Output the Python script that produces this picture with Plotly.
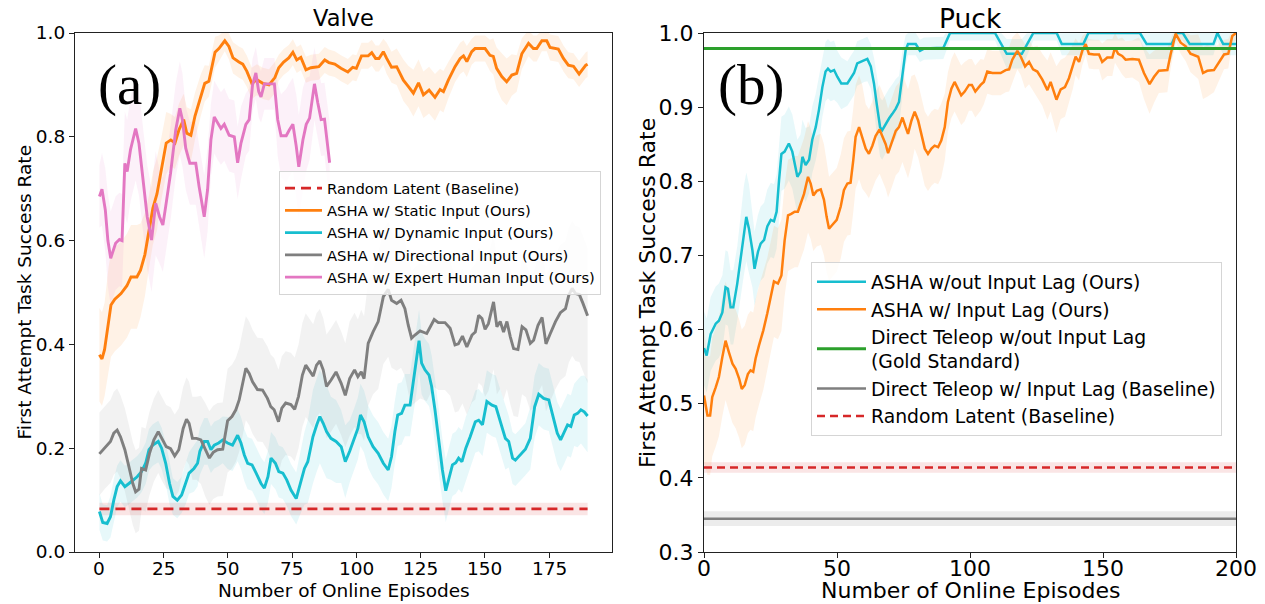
import plotly.graph_objects as go

FONT = "DejaVu Sans"
SERIF = "Liberation Serif"
C_OR = "#ff7f0e"
C_CY = "#17becf"
C_GR = "#7f7f7f"
C_PK = "#e377c2"
C_RD = "#d62728"
C_GN = "#2ca02c"

# ---------------- Data: (episode, mean, spread) ----------------
valve_ticks_x = [0, 25, 50, 75, 100, 125, 150, 175]
valve_ticks_y = [0.0, 0.2, 0.4, 0.6, 0.8, 1.0]
puck_ticks_x = [0, 50, 100, 150, 200]
puck_ticks_y = [0.3, 0.4, 0.5, 0.6, 0.7, 0.8, 0.9, 1.0]

valve_random_ep = [0, 190]
valve_random_mean = 0.083
valve_random_spread = 0.012

valve_static = [
    (0, 0.38, 0.09), (1, 0.372, 0.09), (2, 0.39, 0.09), (3.6, 0.45, 0.1), (4.5, 0.476, 0.1),
    (6, 0.487, 0.1), (8.4, 0.498, 0.1), (10.7, 0.513, 0.1), (12.3, 0.53, 0.1), (14.6, 0.53, 0.1),
    (16, 0.543, 0.09), (17.7, 0.573, 0.08), (19.3, 0.617, 0.07), (20.8, 0.662, 0.07), (22.4, 0.69, 0.07),
    (24, 0.736, 0.06), (26, 0.788, 0.06), (27.8, 0.794, 0.05), (29.4, 0.788, 0.05), (31, 0.814, 0.05),
    (32.8, 0.833, 0.05), (34, 0.807, 0.05), (35.6, 0.803, 0.05), (37.2, 0.84, 0.045), (39.5, 0.881, 0.04),
    (41, 0.903, 0.035), (42.6, 0.907, 0.03), (45, 0.963, 0.03), (46.5, 0.97, 0.025), (48.8, 0.985, 0.02),
    (50.4, 0.974, 0.025), (52, 0.952, 0.03), (54.3, 0.944, 0.03), (55.8, 0.94, 0.03), (57.4, 0.926, 0.03),
    (59.3, 0.903, 0.03), (61.3, 0.91, 0.03), (63.6, 0.903, 0.03), (66, 0.9, 0.03), (68.3, 0.914, 0.03),
    (69.8, 0.933, 0.025), (71.7, 0.944, 0.025), (73.7, 0.952, 0.025), (75.3, 0.963, 0.025), (76.8, 0.948, 0.025),
    (78.4, 0.953, 0.025), (80.4, 0.929, 0.025), (82.3, 0.933, 0.025), (85.4, 0.935, 0.025), (87.7, 0.948, 0.025),
    (89.3, 0.943, 0.025), (91.6, 0.94, 0.025), (94, 0.932, 0.025), (96.7, 0.925, 0.025), (98.6, 0.934, 0.025),
    (100, 0.932, 0.025), (102, 0.956, 0.025), (104.6, 0.956, 0.025), (106, 0.962, 0.025), (107.5, 0.951, 0.025),
    (108.8, 0.951, 0.025), (110.5, 0.964, 0.025), (111.8, 0.951, 0.03), (113.7, 0.934, 0.03), (115.7, 0.935, 0.035),
    (118.3, 0.909, 0.04), (120.2, 0.897, 0.04), (122.2, 0.884, 0.045), (124.2, 0.904, 0.045), (126.1, 0.881, 0.045),
    (128.3, 0.89, 0.045), (130.6, 0.876, 0.045), (132.6, 0.891, 0.04), (133.9, 0.887, 0.04), (135.8, 0.909, 0.035),
    (138.4, 0.935, 0.03), (140.4, 0.951, 0.03), (141.7, 0.956, 0.03), (143, 0.945, 0.03), (144.9, 0.964, 0.025),
    (146.2, 0.97, 0.025), (150.1, 0.97, 0.025), (152, 0.957, 0.03), (153.3, 0.955, 0.035), (154.6, 0.932, 0.04),
    (156.6, 0.916, 0.045), (158.5, 0.906, 0.045), (160.5, 0.919, 0.04), (162.4, 0.922, 0.035), (164.4, 0.96, 0.03),
    (167, 0.98, 0.025), (168.9, 0.97, 0.025), (170.2, 0.97, 0.025), (172.2, 0.985, 0.02), (174.1, 0.985, 0.02),
    (175.4, 0.972, 0.025), (178.6, 0.969, 0.025), (180.6, 0.951, 0.025), (182.5, 0.938, 0.025), (184.5, 0.936, 0.025),
    (186.7, 0.921, 0.025), (189.3, 0.938, 0.025), (190, 0.94, 0.025),
]

valve_dynamic = [
    (0, 0.078, 0.035), (1.3, 0.057, 0.035), (3, 0.055, 0.035), (4.3, 0.068, 0.04), (5.6, 0.1, 0.04),
    (6.9, 0.126, 0.04), (8.2, 0.137, 0.04), (9.9, 0.126, 0.04), (11.5, 0.132, 0.04), (13, 0.139, 0.04),
    (14.7, 0.145, 0.04), (16.4, 0.155, 0.04), (18, 0.171, 0.04), (19.3, 0.197, 0.04), (20.8, 0.206, 0.04),
    (22.9, 0.213, 0.04), (24.2, 0.2, 0.04), (25.8, 0.171, 0.04), (27.3, 0.132, 0.04), (28.6, 0.107, 0.035),
    (30.3, 0.1, 0.035), (32, 0.11, 0.035), (33.6, 0.132, 0.04), (34.9, 0.152, 0.04), (36.8, 0.161, 0.045),
    (38.2, 0.171, 0.045), (39.1, 0.194, 0.045), (40.8, 0.213, 0.045), (42.1, 0.213, 0.045), (43.4, 0.197, 0.045),
    (44.7, 0.206, 0.045), (46.4, 0.21, 0.045), (48, 0.216, 0.045), (49.9, 0.21, 0.05), (51.8, 0.206, 0.05),
    (53.8, 0.225, 0.05), (55.1, 0.21, 0.05), (56.4, 0.187, 0.05), (57.7, 0.171, 0.05), (59.4, 0.168, 0.05),
    (61, 0.152, 0.05), (62.9, 0.132, 0.05), (64.2, 0.123, 0.05), (65.6, 0.145, 0.05), (66.8, 0.181, 0.05),
    (68.5, 0.171, 0.05), (69.8, 0.155, 0.05), (71.4, 0.152, 0.05), (72.9, 0.139, 0.05), (74.6, 0.119, 0.05),
    (76.6, 0.103, 0.05), (78.1, 0.132, 0.06), (79.8, 0.161, 0.07), (81.1, 0.174, 0.08), (83.1, 0.222, 0.09),
    (84.6, 0.245, 0.09), (85.8, 0.261, 0.09), (87.1, 0.248, 0.09), (88.4, 0.232, 0.09), (90.1, 0.219, 0.08),
    (92.1, 0.213, 0.08), (94.1, 0.203, 0.07), (95.7, 0.174, 0.07), (97.4, 0.194, 0.06), (99.3, 0.219, 0.06),
    (100.6, 0.238, 0.06), (101.6, 0.264, 0.06), (103, 0.251, 0.06), (104.6, 0.222, 0.06), (106.5, 0.203, 0.06),
    (108.5, 0.19, 0.06), (110.5, 0.171, 0.06), (112.4, 0.158, 0.06), (113.7, 0.184, 0.06), (115, 0.232, 0.06),
    (116.1, 0.264, 0.06), (117.6, 0.267, 0.06), (118.9, 0.283, 0.06), (120.9, 0.283, 0.06), (122.2, 0.328, 0.06),
    (123.5, 0.37, 0.06), (124.4, 0.407, 0.06), (125.4, 0.364, 0.06), (126.7, 0.351, 0.06), (128.3, 0.341, 0.06),
    (129.3, 0.319, 0.06), (130.6, 0.274, 0.06), (132.2, 0.21, 0.06), (133.5, 0.158, 0.06), (134.8, 0.118, 0.06),
    (136.1, 0.145, 0.06), (137.4, 0.168, 0.06), (138.7, 0.172, 0.06), (139.8, 0.181, 0.06), (141.1, 0.174, 0.06),
    (142.6, 0.2, 0.06), (144.3, 0.222, 0.06), (146.3, 0.251, 0.06), (147.6, 0.254, 0.06), (149.1, 0.245, 0.06),
    (150.8, 0.29, 0.06), (152.8, 0.283, 0.06), (154.3, 0.28, 0.06), (156, 0.254, 0.06), (158, 0.219, 0.06),
    (159.3, 0.213, 0.05), (160.8, 0.181, 0.05), (161.9, 0.177, 0.05), (163.8, 0.187, 0.05), (165.8, 0.198, 0.05),
    (167.7, 0.219, 0.06), (169.4, 0.28, 0.06), (171, 0.304, 0.06), (172.9, 0.296, 0.06), (174.9, 0.293, 0.06),
    (176.5, 0.261, 0.06), (178.2, 0.229, 0.06), (179.5, 0.216, 0.06), (180.8, 0.229, 0.06), (182.2, 0.245, 0.06),
    (183.5, 0.242, 0.06), (184.8, 0.264, 0.06), (186.1, 0.267, 0.065), (187.4, 0.274, 0.065), (188.7, 0.27, 0.07),
    (190, 0.262, 0.07),
]

valve_directional = [
    (0, 0.189, 0.08), (2.3, 0.203, 0.08), (4.3, 0.213, 0.08), (5.6, 0.229, 0.08), (6.9, 0.235, 0.08),
    (8.2, 0.222, 0.08), (9.9, 0.197, 0.08), (11.5, 0.164, 0.08), (13, 0.132, 0.08), (14.1, 0.116, 0.08),
    (15.4, 0.121, 0.08), (16.4, 0.161, 0.08), (18, 0.158, 0.08), (19.5, 0.19, 0.08), (21.2, 0.216, 0.08),
    (22.9, 0.232, 0.08), (24.5, 0.216, 0.08), (26, 0.203, 0.08), (27.7, 0.199, 0.08), (29.3, 0.185, 0.08),
    (30.9, 0.197, 0.08), (32.6, 0.238, 0.08), (33.9, 0.256, 0.08), (34.9, 0.248, 0.08), (36.2, 0.219, 0.08),
    (37.8, 0.219, 0.08), (39.5, 0.216, 0.085), (41.2, 0.197, 0.09), (42.8, 0.181, 0.09), (44.3, 0.192, 0.09),
    (46, 0.197, 0.09), (48, 0.198, 0.09), (49.9, 0.253, 0.1), (51.6, 0.261, 0.1), (53.1, 0.274, 0.1),
    (54.4, 0.293, 0.1), (55.7, 0.325, 0.1), (57, 0.354, 0.1), (58.3, 0.344, 0.1), (59.6, 0.328, 0.1),
    (61.5, 0.313, 0.1), (63.5, 0.312, 0.1), (65.4, 0.296, 0.1), (66.7, 0.28, 0.1), (68, 0.274, 0.1),
    (69.7, 0.251, 0.1), (71, 0.277, 0.1), (72.5, 0.287, 0.1), (74.5, 0.284, 0.1), (76, 0.275, 0.1),
    (77.5, 0.3, 0.1), (79, 0.341, 0.1), (80.3, 0.36, 0.1), (81.6, 0.351, 0.1), (83.2, 0.339, 0.1),
    (84.5, 0.36, 0.1), (85.8, 0.368, 0.1), (87.1, 0.351, 0.1), (88.4, 0.319, 0.1), (90.1, 0.331, 0.1),
    (92.1, 0.347, 0.1), (94.1, 0.325, 0.1), (95.7, 0.302, 0.1), (97.4, 0.334, 0.11), (99.3, 0.351, 0.11),
    (100.6, 0.338, 0.11), (101.9, 0.347, 0.12), (103, 0.334, 0.12), (104.6, 0.402, 0.12), (106.5, 0.424, 0.12),
    (108.5, 0.444, 0.13), (110.5, 0.492, 0.13), (112.4, 0.506, 0.13), (113.7, 0.485, 0.13), (115.7, 0.479, 0.13),
    (117.4, 0.485, 0.13), (118.9, 0.469, 0.13), (120.2, 0.437, 0.13), (121.5, 0.412, 0.13), (122.8, 0.418, 0.13),
    (124.8, 0.426, 0.13), (127.4, 0.421, 0.13), (128.6, 0.433, 0.13), (130.3, 0.448, 0.13), (131.9, 0.442, 0.13),
    (134.5, 0.442, 0.13), (136.5, 0.431, 0.13), (138.4, 0.399, 0.13), (139.7, 0.401, 0.13), (141.3, 0.416, 0.13),
    (143, 0.395, 0.13), (145, 0.418, 0.13), (146.3, 0.424, 0.13), (147.6, 0.456, 0.13), (148.9, 0.45, 0.13),
    (150.1, 0.429, 0.13), (151.4, 0.44, 0.13), (153.4, 0.482, 0.13), (154.7, 0.434, 0.13), (156, 0.444, 0.13),
    (157.3, 0.424, 0.13), (158.6, 0.444, 0.13), (159.9, 0.415, 0.13), (161.2, 0.392, 0.13), (162.9, 0.39, 0.13),
    (164.5, 0.434, 0.13), (166, 0.428, 0.13), (167.7, 0.402, 0.13), (169, 0.408, 0.13), (170.7, 0.437, 0.13),
    (172.3, 0.452, 0.13), (173.8, 0.401, 0.13), (175.5, 0.421, 0.13), (177.5, 0.444, 0.13), (179.4, 0.461, 0.13),
    (181.4, 0.469, 0.13), (182.7, 0.495, 0.13), (184, 0.508, 0.13), (185.3, 0.498, 0.13), (186.8, 0.496, 0.13),
    (188.2, 0.479, 0.13), (190, 0.455, 0.13),
]

valve_expert = [
    (0, 0.685, 0.06), (1, 0.699, 0.07), (2.3, 0.659, 0.08), (3.3, 0.6, 0.09), (4.4, 0.566, 0.09),
    (6.3, 0.595, 0.09), (7.8, 0.602, 0.09), (8.8, 0.6, 0.09), (9.9, 0.749, 0.1), (10.8, 0.733, 0.1),
    (12.1, 0.775, 0.1), (14.1, 0.816, 0.1), (15.4, 0.787, 0.1), (17.3, 0.704, 0.1), (18.6, 0.646, 0.1),
    (20.3, 0.601, 0.1), (21.9, 0.672, 0.1), (23.4, 0.646, 0.09), (24.7, 0.63, 0.09), (25.8, 0.666, 0.09),
    (27.7, 0.73, 0.09), (29.7, 0.813, 0.09), (31.3, 0.855, 0.09), (32.3, 0.833, 0.09), (33.6, 0.778, 0.08),
    (35.2, 0.749, 0.08), (37.5, 0.749, 0.08), (38.8, 0.704, 0.08), (40.8, 0.646, 0.08), (42.1, 0.698, 0.08),
    (43.4, 0.794, 0.07), (44.7, 0.838, 0.07), (46, 0.826, 0.07), (47.3, 0.816, 0.07), (48.6, 0.824, 0.07),
    (50.5, 0.803, 0.07), (52.5, 0.8, 0.07), (53.8, 0.75, 0.07), (55.1, 0.788, 0.07), (57, 0.824, 0.06),
    (58.3, 0.833, 0.06), (59.6, 0.9, 0.05), (60.9, 0.923, 0.05), (62, 0.887, 0.05), (62.9, 0.877, 0.05),
    (64.2, 0.902, 0.05), (68.1, 0.902, 0.05), (69.4, 0.833, 0.07), (70.7, 0.802, 0.08), (72.7, 0.802, 0.09),
    (73.9, 0.813, 0.09), (75.3, 0.824, 0.09), (76.6, 0.782, 0.1), (77.6, 0.742, 0.1), (79.2, 0.794, 0.1),
    (80.5, 0.824, 0.09), (81.8, 0.836, 0.08), (83.7, 0.902, 0.07), (85, 0.865, 0.07), (86.3, 0.833, 0.07),
    (87.6, 0.834, 0.07), (89.6, 0.75, 0.08),
]

puck_gold_mean = 0.979
puck_lag_tele_mean = 0.345
puck_lag_tele_spread = 0.01
puck_random_mean = 0.414
puck_random_spread = 0.007
puck_const_ep = [0, 200]

puck_no_lag = [
    (0, 0.575, 0.05), (1, 0.565, 0.05), (2.5, 0.594, 0.05), (4.4, 0.608, 0.05), (5.6, 0.612, 0.05),
    (6.9, 0.623, 0.05), (8.1, 0.657, 0.05), (9, 0.655, 0.05), (10, 0.63, 0.05), (11, 0.63, 0.05),
    (12.5, 0.662, 0.05), (13.8, 0.698, 0.055), (15, 0.734, 0.06), (15.9, 0.752, 0.06), (16.9, 0.736, 0.06),
    (18.2, 0.707, 0.05), (19, 0.682, 0.05), (20.3, 0.705, 0.05), (21.3, 0.716, 0.05), (22.6, 0.721, 0.05),
    (23.8, 0.739, 0.05), (25.1, 0.748, 0.05), (26.3, 0.746, 0.05), (27.3, 0.759, 0.05), (28.2, 0.801, 0.05),
    (29.1, 0.837, 0.05), (30.3, 0.84, 0.05), (31.9, 0.851, 0.05), (33.2, 0.84, 0.05), (34.1, 0.822, 0.05),
    (35.1, 0.806, 0.05), (36.3, 0.813, 0.05), (37, 0.833, 0.05), (38.2, 0.822, 0.05), (39.5, 0.829, 0.045),
    (40.7, 0.856, 0.045), (42, 0.873, 0.045), (43.2, 0.896, 0.045), (44.5, 0.927, 0.04), (45.7, 0.948, 0.04),
    (46.6, 0.952, 0.04), (47.6, 0.948, 0.04), (48.9, 0.95, 0.04), (50.1, 0.941, 0.035), (51.6, 0.932, 0.035),
    (53.9, 0.932, 0.03), (55.1, 0.939, 0.03), (56.4, 0.946, 0.03), (57.6, 0.959, 0.03), (58.9, 0.961, 0.03),
    (60.2, 0.964, 0.03), (61.4, 0.965, 0.03), (62.7, 0.955, 0.03), (63.9, 0.932, 0.035), (64.9, 0.905, 0.04),
    (66.2, 0.873, 0.04), (67, 0.869, 0.04), (68.3, 0.878, 0.04), (69.6, 0.885, 0.04), (70.8, 0.891, 0.04),
    (72.1, 0.898, 0.04), (73.3, 0.907, 0.035), (74.6, 0.946, 0.03), (75.8, 0.977, 0.02), (76.7, 0.985, 0.015),
    (79.6, 0.985, 0.015), (81.2, 0.976, 0.015), (82.7, 0.979, 0.015), (90, 0.98, 0.015), (92.5, 1.0, 0.01),
    (109.4, 1.0, 0.01), (111.5, 0.986, 0.015), (113.8, 0.972, 0.02), (119.5, 0.972, 0.02), (121.3, 0.984, 0.015),
    (123.8, 1.0, 0.01), (132.6, 1.0, 0.01), (134.5, 0.985, 0.015), (142.6, 0.985, 0.015), (144.5, 1.0, 0.01),
    (163.9, 1.0, 0.01), (166.4, 0.985, 0.02), (175.8, 0.985, 0.02), (177.6, 1.0, 0.01), (180, 1.0, 0.01),
    (182.6, 0.985, 0.015), (191.5, 0.985, 0.015), (193, 1.0, 0.01), (195.2, 0.985, 0.015), (200, 0.985, 0.015),
]

puck_lag = [
    (0, 0.511, 0.09), (1.3, 0.484, 0.08), (2.3, 0.484, 0.08), (3.1, 0.509, 0.08), (4.4, 0.522, 0.08),
    (5.6, 0.536, 0.08), (6.9, 0.563, 0.08), (8.1, 0.585, 0.08), (9.4, 0.569, 0.08), (10.7, 0.554, 0.08),
    (11.9, 0.547, 0.08), (13.2, 0.534, 0.08), (14.2, 0.52, 0.08), (15.3, 0.525, 0.08), (16.5, 0.54, 0.08),
    (17.5, 0.545, 0.08), (18.5, 0.543, 0.08), (19.4, 0.561, 0.08), (20.7, 0.579, 0.08), (22.3, 0.599, 0.08),
    (23.8, 0.622, 0.075), (25.1, 0.644, 0.075), (26.3, 0.665, 0.075), (27.8, 0.662, 0.075), (29.1, 0.673, 0.075),
    (30.3, 0.72, 0.075), (31.6, 0.754, 0.075), (32.8, 0.756, 0.075), (34.1, 0.759, 0.075), (35.3, 0.759, 0.075),
    (36.6, 0.773, 0.075), (37.6, 0.783, 0.075), (39.1, 0.806, 0.075), (40.1, 0.797, 0.075), (41.1, 0.781, 0.075),
    (42.4, 0.787, 0.075), (43.9, 0.789, 0.075), (45.1, 0.775, 0.075), (46.1, 0.752, 0.075), (47, 0.736, 0.07),
    (48.2, 0.741, 0.07), (49.9, 0.748, 0.07), (51.4, 0.766, 0.07), (52.6, 0.788, 0.07), (53.9, 0.797, 0.07),
    (55.1, 0.798, 0.07), (56.1, 0.828, 0.07), (57, 0.86, 0.07), (58.3, 0.873, 0.07), (59.5, 0.86, 0.07),
    (60.8, 0.844, 0.06), (62, 0.837, 0.06), (63.3, 0.848, 0.06), (64.5, 0.861, 0.06), (66, 0.87, 0.06),
    (67, 0.861, 0.06), (68.3, 0.85, 0.06), (69.2, 0.838, 0.06), (70.4, 0.85, 0.06), (72.1, 0.868, 0.06),
    (73.3, 0.873, 0.06), (74.6, 0.886, 0.06), (75.8, 0.873, 0.06), (76.7, 0.864, 0.06), (78, 0.882, 0.06),
    (79.2, 0.894, 0.05), (80.5, 0.882, 0.05), (81.7, 0.864, 0.05), (83, 0.844, 0.05), (84.2, 0.837, 0.05),
    (85.5, 0.844, 0.05), (86.7, 0.848, 0.05), (88, 0.846, 0.05), (89.2, 0.855, 0.05), (90.5, 0.873, 0.045),
    (91.7, 0.907, 0.04), (93, 0.925, 0.04), (94.2, 0.934, 0.04), (95.5, 0.925, 0.04), (96.7, 0.916, 0.04),
    (98, 0.921, 0.04), (99.6, 0.93, 0.035), (100.7, 0.93, 0.035), (102, 0.921, 0.035), (104, 0.93, 0.035),
    (105.2, 0.934, 0.03), (106.5, 0.948, 0.03), (108.4, 0.946, 0.03), (111.5, 0.946, 0.03), (113.4, 0.95, 0.03),
    (114.7, 0.951, 0.03), (115.9, 0.964, 0.03), (117.8, 0.976, 0.025), (119.1, 0.968, 0.025), (120.7, 0.955, 0.03),
    (122.2, 0.961, 0.03), (123.7, 0.951, 0.03), (125.3, 0.948, 0.035), (127.2, 0.937, 0.035), (129.1, 0.923, 0.04),
    (130.3, 0.934, 0.04), (132.5, 0.91, 0.045), (134.1, 0.924, 0.04), (135.7, 0.927, 0.04), (137.2, 0.939, 0.035),
    (138.7, 0.955, 0.03), (139.7, 0.968, 0.025), (141, 0.961, 0.025), (142.2, 0.976, 0.02), (143.5, 0.985, 0.015),
    (144.7, 0.972, 0.02), (146.6, 0.971, 0.02), (148.5, 0.971, 0.02), (149.7, 0.961, 0.025), (151.6, 0.967, 0.025),
    (153.5, 0.967, 0.025), (154.5, 0.98, 0.02), (155.7, 0.972, 0.02), (157.2, 0.969, 0.025), (158.5, 0.964, 0.025),
    (161, 0.965, 0.025), (163.5, 0.964, 0.03), (165.4, 0.946, 0.035), (167.5, 0.931, 0.04), (169.2, 0.941, 0.035),
    (171, 0.949, 0.03), (174.2, 0.95, 0.03), (175.4, 0.971, 0.02), (177.3, 0.999, 0.01), (179.2, 0.987, 0.015),
    (181.1, 0.982, 0.02), (182.9, 0.972, 0.025), (185.8, 0.968, 0.03), (187.6, 0.946, 0.035), (189.2, 0.949, 0.035),
    (191.7, 0.95, 0.03), (193.6, 0.961, 0.025), (195.5, 0.971, 0.02), (197.1, 0.972, 0.02), (198.6, 0.996, 0.01),
    (200, 1.0, 0.01),
]

# ---------------- Figure ----------------
W, H = 1265, 604


def fx(p):
    return p / W


def fy(p):
    return 1 - p / H


def rgba(hex_color, a):
    h = hex_color.lstrip("#")
    r, g, b = int(h[0:2], 16), int(h[2:4], 16), int(h[4:6], 16)
    return f"rgba({r},{g},{b},{a})"


fig = go.Figure()


def add_band(xs, ys, ss, color, xa, ya, alpha=0.1):
    up = [y + s for y, s in zip(ys, ss)]
    lo = [y - s for y, s in zip(ys, ss)]
    fig.add_trace(go.Scatter(
        x=list(xs) + list(xs)[::-1], y=up + lo[::-1], fill="toself",
        fillcolor=rgba(color, alpha), line=dict(width=0), mode="lines",
        hoverinfo="skip", showlegend=False, xaxis=xa, yaxis=ya))


def add_line(xs, ys, color, name, xa, ya, legend, width, dash="solid"):
    fig.add_trace(go.Scatter(
        x=xs, y=ys, mode="lines", name=name, line=dict(color=color, width=width, dash=dash),
        xaxis=xa, yaxis=ya, legend=legend))


def unpack(series):
    return [p[0] for p in series], [p[1] for p in series], [p[2] for p in series]


# ----- Valve (left) -----
add_band(valve_random_ep, [valve_random_mean] * 2, [valve_random_spread] * 2, C_RD, "x", "y", 0.12)
valve_series = [
    (valve_static, C_OR, "ASHA w/ Static Input (Ours)"),
    (valve_dynamic, C_CY, "ASHA w/ Dynamic Input (Ours)"),
    (valve_directional, C_GR, "ASHA w/ Directional Input (Ours)"),
    (valve_expert, C_PK, "ASHA w/ Expert Human Input (Ours)"),
]
for ser, col, _ in valve_series:
    xs, ys, ss = unpack(ser)
    add_band(xs, ys, ss, col, "x", "y")

LW_L = 2.9
add_line(valve_random_ep, [valve_random_mean] * 2, C_RD, "Random Latent (Baseline)", "x", "y",
         "legend", LW_L, dash="10px,6px")
for ser, col, name in valve_series:
    xs, ys, ss = unpack(ser)
    add_line(xs, ys, col, name, "x", "y", "legend", LW_L)

# ----- Puck (right) -----
LW_R = 2.5
for ser, col in [(puck_no_lag, C_CY), (puck_lag, C_OR)]:
    xs, ys, ss = unpack(ser)
    add_band(xs, ys, ss, col, "x2", "y2")
add_band(puck_const_ep, [puck_lag_tele_mean] * 2, [puck_lag_tele_spread] * 2, C_GR, "x2", "y2", 0.15)
add_band(puck_const_ep, [puck_random_mean] * 2, [puck_random_spread] * 2, C_RD, "x2", "y2", 0.12)

xs, ys, ss = unpack(puck_no_lag)
add_line(xs, ys, C_CY, "ASHA w/out Input Lag (Ours)", "x2", "y2", "legend2", LW_R)
xs, ys, ss = unpack(puck_lag)
add_line(xs, ys, C_OR, "ASHA w/ Input Lag (Ours)", "x2", "y2", "legend2", LW_R)
add_line(puck_const_ep, [puck_gold_mean] * 2, C_GN, "Direct Teleop w/out Input Lag<br>(Gold Standard)",
         "x2", "y2", "legend2", LW_R + 0.4)
add_line(puck_const_ep, [puck_lag_tele_mean] * 2, C_GR, "Direct Teleop w/ Input Lag (Baseline)",
         "x2", "y2", "legend2", LW_R)
add_line(puck_const_ep, [puck_random_mean] * 2, C_RD, "Random Latent (Baseline)", "x2", "y2",
         "legend2", LW_R, dash="8px,5px")

axis_common = dict(showline=True, mirror=True, linecolor="#222", linewidth=1.1, showgrid=False,
                   zeroline=False, ticks="outside", ticklen=5, tickwidth=1.1, tickcolor="#222",
                   automargin=False)

fig.update_layout(
    width=W, height=H, autosize=False,
    margin=dict(l=0, r=0, t=0, b=0, pad=0),
    paper_bgcolor="white", plot_bgcolor="white",
    font=dict(family=FONT, color="black"),
    xaxis=dict(domain=[fx(75), fx(612)], range=[-9.5, 199.5], tickvals=valve_ticks_x,
               showticklabels=False, anchor="y", **axis_common),
    yaxis=dict(domain=[fy(552), fy(33)], range=[0, 1], tickvals=valve_ticks_y, tickformat=".1f",
               tickfont=dict(size=18.5, family=FONT, color="black"), anchor="x", **axis_common),
    xaxis2=dict(domain=[fx(704), fx(1236)], range=[0, 200], tickvals=puck_ticks_x,
                showticklabels=False, anchor="y2", **axis_common),
    yaxis2=dict(domain=[fy(552), fy(33)], range=[0.3, 1.0], tickvals=puck_ticks_y, tickformat=".1f",
                tickfont=dict(size=22, family=FONT, color="black"), anchor="x2", **axis_common),
    legend=dict(x=fx(279), y=fy(171), xanchor="left", yanchor="top",
                bgcolor="rgba(255,255,255,0.8)", bordercolor="#d5d5d5", borderwidth=1,
                font=dict(family=FONT, size=14.8, color="black"), tracegroupgap=0, itemwidth=37),
    legend2=dict(x=fx(811), y=fy(262), xanchor="left", yanchor="top",
                 bgcolor="rgba(255,255,255,0.8)", bordercolor="#d5d5d5", borderwidth=1,
                 font=dict(family=FONT, size=18.8, color="black"), tracegroupgap=0, itemwidth=49),
    showlegend=True,
)

annotations = [
    dict(text="Valve", x=fx(343.5), y=fy(18), font=dict(size=22.5, family=FONT, color="black")),
    dict(text="Puck", x=fx(970), y=fy(18), font=dict(size=26.5, family=FONT, color="black")),
    dict(text="First Attempt Task Success Rate", x=fx(24), y=fy(292.5), textangle=-90,
         font=dict(size=18.5, family=FONT, color="black")),
    dict(text="First Attempt Task Success Rate", x=fx(647), y=fy(293), textangle=-90,
         font=dict(size=22, family=FONT, color="black")),
    dict(text="Number of Online Episodes", x=fx(343.5), y=fy(590), font=dict(size=18.5, family=FONT, color="black")),
    dict(text="Number of Online Episodes", x=fx(970), y=fy(590.5), font=dict(size=22, family=FONT, color="black")),
    dict(text="(a)", x=fx(129), y=fy(85), font=dict(size=57, family=SERIF, color="black")),
    dict(text="(b)", x=fx(751), y=fy(85), font=dict(size=57, family=SERIF, color="black")),
]
for a in annotations:
    a.update(xref="paper", yref="paper", showarrow=False, xanchor="center", yanchor="middle")

# x tick labels placed through each axis' own data scale
for t in valve_ticks_x:
    annotations.append(dict(text=str(t), x=t, xref="x", y=fy(568), yref="paper", showarrow=False,
                            xanchor="center", yanchor="middle",
                            font=dict(size=18.5, family=FONT, color="black")))
for t in puck_ticks_x:
    annotations.append(dict(text=str(t), x=t, xref="x2", y=fy(568.5), yref="paper", showarrow=False,
                            xanchor="center", yanchor="middle",
                            font=dict(size=22, family=FONT, color="black")))

fig.update_layout(annotations=annotations)

fig.write_html("out.html")
